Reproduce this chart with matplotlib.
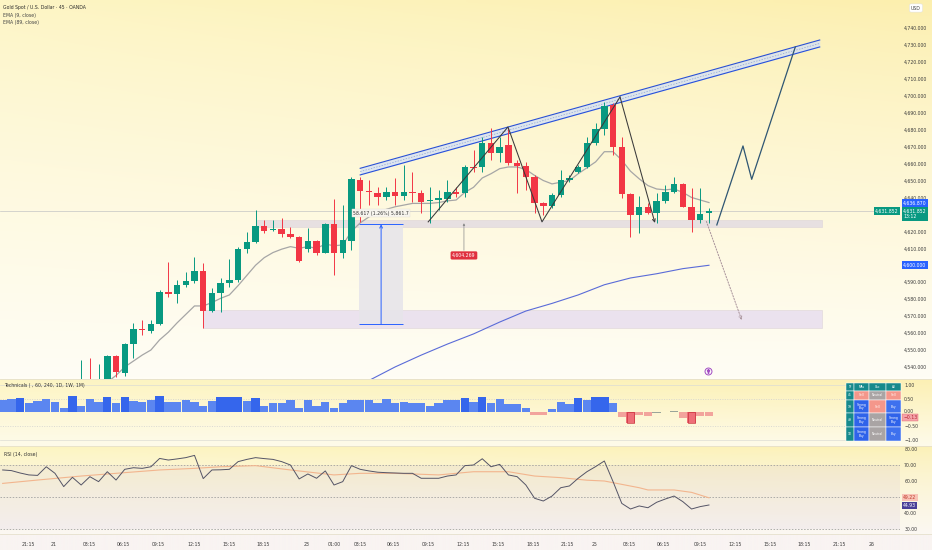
import numpy as np
import matplotlib
matplotlib.use("Agg")
import matplotlib.pyplot as plt
import matplotlib.transforms as mtransforms
from matplotlib.patches import Rectangle
from matplotlib.lines import Line2D

# ---------------- data ----------------
title = "Gold Spot / U.S. Dollar · 45 · OANDA"
ema9_name = "EMA (9, close)"
ema89_name = "EMA (89, close)"

candle_k = list(range(9, 82))
opens = [4527, 4531, 4528, 4530, 4546.4, 4536.2, 4553.5, 4562.6, 4561.4, 4565.3,
         4584.0, 4583.0, 4588.3, 4590.7, 4596.8, 4573.2, 4583.8, 4589.7, 4591.3, 4609.4,
         4613.9, 4623.2, 4620.6, 4621.2, 4618.2, 4616.9, 4609.4, 4614.3, 4607.4, 4624.1,
         4607.0, 4614.5, 4650.3, 4644.0, 4642.8, 4640.4, 4643.2, 4640.9, 4643.2, 4642.6,
         4637.7, 4638.5, 4638.9, 4643.0, 4642.4, 4658.2, 4657.8, 4672.3, 4666.0, 4671.0,
         4660.5, 4658.6, 4651.9, 4636.5, 4635.0, 4641.3, 4650.3, 4655.2, 4657.8, 4671.9,
         4680.2, 4694.6, 4669.6, 4642.0, 4629.4, 4634.2, 4631.0, 4638.1, 4643.0, 4647.8,
         4634.6, 4626.7, 4630.6]
highs = [4544, 4545, 4542, 4547, 4547, 4554, 4565.7, 4567.7, 4567.7, 4585.4,
         4602.1, 4591.3, 4596.2, 4605.1, 4601.1, 4586.4, 4592.3, 4603.5, 4611.0, 4619.8,
         4632.6, 4626.7, 4626.7, 4627.7, 4622.8, 4617.0, 4621.8, 4614.9, 4624.7, 4639.0,
         4635.5, 4651.9, 4651.9, 4650.3, 4646.4, 4646.4, 4651.3, 4659.2, 4655.2, 4644.4,
         4646.4, 4644.4, 4650.3, 4646.4, 4659.2, 4668.0, 4675.9, 4680.8, 4675.9, 4680.8,
         4662.1, 4661.1, 4653.3, 4637.5, 4642.4, 4656.2, 4653.3, 4659.2, 4675.9, 4683.8,
         4696.5, 4695.6, 4675.9, 4642.4, 4640.9, 4636.5, 4642.4, 4647.4, 4652.3, 4648.3,
         4645.4, 4645.4, 4633.6]
lows = [4524, 4522, 4525, 4528, 4534.2, 4534.5, 4545.1, 4558.8, 4559.8, 4564.7,
        4581.5, 4577.5, 4587.0, 4589.3, 4563.2, 4572.6, 4572.6, 4587.4, 4590.3, 4607.0,
        4612.9, 4618.8, 4620.4, 4616.9, 4615.9, 4602.1, 4608.0, 4606.0, 4607.0, 4594.2,
        4604.1, 4609.0, 4625.7, 4635.5, 4635.5, 4638.5, 4635.5, 4638.5, 4637.5, 4630.6,
        4624.7, 4632.6, 4637.5, 4640.4, 4640.4, 4655.2, 4655.2, 4662.1, 4661.1, 4659.2,
        4642.4, 4644.4, 4630.6, 4629.7, 4633.6, 4640.4, 4649.3, 4654.2, 4657.2, 4671.0,
        4676.9, 4665.1, 4639.5, 4616.9, 4618.8, 4630.3, 4624.7, 4636.5, 4642.4, 4634.2,
        4619.8, 4624.7, 4624.7]
closes = [4531, 4528, 4532, 4546.4, 4537.2, 4553.5, 4562.2, 4561.8, 4565.3, 4584.0,
          4583.0, 4588.3, 4590.7, 4596.8, 4573.2, 4583.8, 4589.7, 4591.3, 4609.4, 4613.9,
          4623.2, 4620.4, 4621.2, 4618.2, 4616.9, 4602.7, 4614.3, 4607.4, 4624.1, 4607.0,
          4614.9, 4650.7, 4644.0, 4643.2, 4640.4, 4643.2, 4640.9, 4643.2, 4642.6, 4637.5,
          4638.5, 4639.5, 4643.0, 4641.9, 4657.8, 4657.4, 4672.3, 4666.0, 4670.0, 4660.5,
          4658.6, 4651.9, 4636.5, 4635.0, 4641.3, 4650.3, 4651.5, 4657.8, 4671.9, 4680.2,
          4694.0, 4669.6, 4642.0, 4629.4, 4634.2, 4631.0, 4638.1, 4643.0, 4647.8, 4634.6,
          4626.7, 4630.3, 4631.9]

ema9_k = list(range(12, 82))
ema9 = [4531, 4535, 4540, 4543.5, 4547, 4550, 4556, 4560.5, 4566, 4571,
        4576, 4576, 4578, 4580.5, 4582.5, 4588, 4594, 4600, 4604.5, 4607.5,
        4609.5, 4611, 4610, 4611, 4610, 4612.5, 4611.5, 4612, 4620, 4625,
        4628.5, 4631, 4633, 4634.5, 4635.5, 4636.5, 4636.5, 4636.5, 4637, 4638,
        4638.5, 4643, 4646, 4651.5, 4654, 4657, 4658, 4658, 4656.5, 4653,
        4650, 4648, 4649, 4650, 4654, 4657.5, 4661, 4667, 4667, 4662,
        4655.5, 4651, 4647, 4645, 4644.5, 4645, 4643, 4640, 4638.5, 4637]

ema89_k = [42, 45, 48, 51, 54, 57, 60, 63, 66, 69, 72, 75, 78, 81]
ema89 = [4532, 4540, 4547, 4553.5, 4559.5, 4566.5, 4573, 4577.5, 4582.5, 4588.5,
         4592.5, 4595, 4598, 4600]

tech_k = list(range(0, 82))
tech = [0.45, 0.47, 0.51, 0.35, 0.41, 0.47, 0.36, 0.17, 0.59, 0.23,
        0.47, 0.39, 0.55, 0.35, 0.57, 0.42, 0.39, 0.45, 0.61, 0.36,
        0.36, 0.45, 0.36, 0.23, 0.41, 0.55, 0.57, 0.57, 0.42, 0.53,
        0.23, 0.33, 0.33, 0.45, 0.17, 0.45, 0.23, 0.39, 0.17, 0.35,
        0.45, 0.45, 0.45, 0.35, 0.48, 0.33, 0.39, 0.33, 0.33, 0.23,
        0.33, 0.45, 0.45, 0.51, 0.36, 0.55, 0.33, 0.48, 0.30, 0.30,
        0.15, -0.10, -0.10, 0.12, 0.36, 0.29, 0.51, 0.45, 0.55, 0.55,
        0.35, -0.17, -0.38, -0.10, -0.15, -0.02, 0.02, 0.05, -0.20, -0.38,
        -0.15, -0.13]

rsi_k = list(range(0, 82))
rsi = [66.9, 66.5, 65.0, 63.8, 63.5, 68.9, 64.8, 56.5, 62.3, 57.5,
       62.7, 59.6, 65.8, 60.6, 67.3, 68.3, 67.9, 68.9, 74.1, 73.1,
       73.8, 74.6, 76.0, 61.5, 66.9, 67.0, 67.3, 72.1, 73.5, 74.6,
       74.0, 73.5, 72.1, 70.0, 61.3, 64.4, 61.7, 66.3, 57.5, 59.6,
       69.6, 67.3, 66.3, 65.5, 65.2, 65.0, 64.8, 64.8, 61.7, 61.7,
       61.7, 63.1, 63.8, 69.6, 70.0, 73.9, 68.9, 70.4, 63.8, 62.7,
       57.5, 49.2, 47.5, 50.6, 55.8, 56.9, 61.7, 65.8, 69.0, 72.5,
       59.6, 46.0, 42.5, 44.4, 43.3, 46.7, 48.75, 50.6, 47.1, 42.5,
       44.0, 45.0]
rsi_ma_k = [0, 4, 9, 13, 18, 22, 25, 29, 33, 38, 41, 45, 50, 54, 58, 61, 64, 67, 69, 71, 73, 74, 77, 79, 81]
rsi_ma = [58.5, 60.6, 63.1, 64.8, 66.9, 67.9, 68.9, 69.6, 66.9, 63.8, 64.8, 64.8, 63.8,
          65.8, 65.8, 63.1, 62.1, 60.5, 60.0, 57.9, 55.8, 54.4, 54.4, 52.9, 49.5]

time_pos = [2.9, 5.8, 9.9, 13.9, 17.9, 21.9, 26.0, 29.9, 34.9, 38.0, 41.0, 44.8, 48.8,
            52.8, 56.8, 60.8, 64.8, 67.9, 71.9, 75.8, 80.0, 84.0, 88.0, 91.9, 96.0, 99.7]
time_lbl = ["21:15", "21", "03:15", "06:15", "09:15", "12:15", "15:15", "18:15", "23", "01:00",
            "03:15", "06:15", "09:15", "12:15", "15:15", "18:15", "21:15", "25", "03:15", "06:15",
            "09:15", "12:15", "15:15", "18:15", "21:15", "26"]

price_ticks = [4540, 4550, 4560, 4570, 4580, 4590, 4610, 4620, 4640, 4650, 4660, 4670,
               4680, 4690, 4700, 4710, 4720, 4730, 4740]

# drawings
channel_k = [41.0, 93.7]
channel_top = [4657.2, 4732.9]
channel_bot = [4653.3, 4728.8]
zig1_k = [48.8, 57.95, 61.85, 70.8, 74.8]
zig1_p = [4625.6, 4681.6, 4625.6, 4699.3, 4625.0]
zig2_k = [81.9, 84.9, 85.9, 90.9]
zig2_p = [4623.8, 4670.4, 4650.7, 4728.8]
dot_k = [80.7, 84.75]
dot_p = [4625.9, 4567.7]
zone_hi = (29.2, 94.0, 4622.8, 4626.7)
zone_lo = (23.0, 94.0, 4563.0, 4573.6)
measure = (40.9, 45.9, 4565.2, 4624.2)
measure_text = "58.617 (1.26%) 5,861.7"
tag_k, tag_p, tag_text = 52.9, 4605.8, "4,604.269"
last_price = 4631.852

table_header = ["TF", "MAs", "Osc", "All"]
table_tf = ["45", "1H", "4H", "1D"]
table_cells = [["Sell", "Neutral", "Sell"],
               ["Strong Buy", "Sell", "Buy"],
               ["Strong Buy", "Neutral", "Strong Buy"],
               ["Strong Buy", "Neutral", "Buy"]]

# ---------------- layout ----------------
W, H = 932, 550
PX_PER_BAR = 8.72
XL = -0.305
XR = 900 / PX_PER_BAR + XL
FS = 3.3
GREEN, RED = "#089981", "#f23645"


def rect(x0, y0, x1, y1):
    return [x0 / W, 1 - y1 / H, (x1 - x0) / W, (y1 - y0) / H]


def hexrgb(h):
    h = h.lstrip("#")
    return np.array([int(h[i:i + 2], 16) / 255 for i in (0, 2, 4)])


fig = plt.figure(figsize=(W / 100, H / 100), dpi=100)


def grad(y0, y1, ctl, ctr, cb, p=0.9):
    a = fig.add_axes(rect(0, y0, W, y1))
    a.axis("off")
    n = 80
    t = np.linspace(0, 1, n)[:, None, None] ** p
    s = np.linspace(0, 1, n)[None, :, None]
    top = hexrgb(ctl) * (1 - s) + hexrgb(ctr) * s
    img = top * (1 - t) + hexrgb(cb) * t
    a.imshow(img, aspect="auto", extent=[0, 1, 0, 1], interpolation="bilinear")
    a.set_xlim(0, 1)
    a.set_ylim(0, 1)


grad(0, 379, "#fdf5c4", "#fcefae", "#fffdf5", 0.8)
grad(379, 446, "#fdf5c4", "#fcf0b4", "#fefbea", 1.0)
grad(446, 534, "#fdf5c0", "#fcf1b4", "#fbf8f2", 0.7)
grad(534, 550, "#f9f4f2", "#f9f4f2", "#f9f4f2", 1.0)


def style(ax):
    ax.set_facecolor("none")
    for s in ax.spines.values():
        s.set_visible(False)
    ax.set_xlim(XL, XR)
    ax.yaxis.tick_right()
    ax.tick_params(axis="y", length=0, pad=3, labelsize=FS, labelcolor="#3a3a3a")


# ---------------- price pane ----------------
ax = fig.add_axes(rect(0, 0, 900, 379))
style(ax)
ax.set_ylim(4532.9, 4756.5)
ax.set_yticks(price_ticks)
ax.set_yticklabels([f"{v:,.3f}" for v in price_ticks])
ax.set_xticks([])

ax.axhline(last_price, color="#c4c4c4", lw=0.5, zorder=1)

for (k0, k1, p0, p1), fc in [(zone_hi, "#e7e0e1"), (zone_lo, "#ebe2ee")]:
    ax.add_patch(Rectangle((k0, p0), k1 - k0, p1 - p0, fc=fc, ec="#ddd4d8", lw=0.4, zorder=1.2))

mk0, mk1, mp0, mp1 = measure
ax.add_patch(Rectangle((mk0, mp0), mk1 - mk0, mp1 - mp0, fc="#e7e5ea", ec="none", alpha=0.9, zorder=1.3))
ax.hlines([mp0, mp1], mk0, mk1, color="#2962ff", lw=0.7, zorder=2)
ax.annotate("", xy=((mk0 + mk1) / 2, mp1), xytext=((mk0 + mk1) / 2, mp0),
            arrowprops=dict(arrowstyle="->", color="#2962ff", lw=0.7, mutation_scale=5,
                            shrinkA=0, shrinkB=0), zorder=2)
ax.text((mk0 + mk1) / 2, mp1 + 6.5, measure_text, ha="center", va="center", fontsize=FS,
        color="#333", zorder=6,
        bbox=dict(boxstyle="square,pad=0.3", fc="#f7f5ee", ec="#e4e0d6", lw=0.3))

# channel
ax.fill_between(channel_k, channel_bot, channel_top, color="#d3e0f7", alpha=0.75, zorder=2, lw=0)
ax.plot(channel_k, channel_top, color="#2850d8", lw=0.8, zorder=2.1)
ax.plot(channel_k, channel_bot, color="#2850d8", lw=0.8, zorder=2.1)
ax.plot(channel_k, [(a + b) / 2 for a, b in zip(channel_top, channel_bot)],
        color="#8aa2d8", lw=0.5, ls=(0, (2, 2)), zorder=2.1)

# EMAs
ax.plot(ema9_k, ema9, color="#a6a6a6", lw=0.9, zorder=3)
ax.plot(ema89_k, ema89, color="#5a6bd8", lw=0.8, zorder=3)

# candles
o, h, l, c = map(np.array, (opens, highs, lows, closes))
kk = np.array(candle_k)
cols = np.where(c >= o, GREEN, RED)
ax.vlines(kk, l, h, colors=cols, lw=0.7, zorder=4)
ax.bar(kk, np.maximum(np.abs(c - o), 0.5), bottom=np.minimum(o, c), width=0.74,
       color=cols, edgecolor="none", zorder=5)

# zigzags
ax.plot(zig1_k[:-1], zig1_p[:-1], color="#3a3a3a", lw=0.75, zorder=6)
ax.annotate("", xy=(zig1_k[-1], zig1_p[-1]), xytext=(zig1_k[-2], zig1_p[-2]),
            arrowprops=dict(arrowstyle="->", color="#3a3a3a", lw=0.75, mutation_scale=5,
                            shrinkA=0, shrinkB=0), zorder=6)
ax.plot(zig2_k, zig2_p, color="#2f5673", lw=0.9, zorder=6)
ax.annotate("", xy=(dot_k[1], dot_p[1]), xytext=(dot_k[0], dot_p[0]),
            arrowprops=dict(arrowstyle="->", color="#a8929a", lw=0.7, ls=(0, (1.5, 1.5)),
                            mutation_scale=5, shrinkA=0, shrinkB=0), zorder=6)

# tag label
ax.annotate("", xy=(tag_k, 4624.8), xytext=(tag_k, tag_p + 3),
            arrowprops=dict(arrowstyle="-|>", color="#8a8a8a", lw=0.5, mutation_scale=3,
                            shrinkA=0, shrinkB=0), zorder=6)
ax.text(tag_k, tag_p, tag_text, ha="center", va="center", fontsize=FS, color="white", zorder=7,
        bbox=dict(boxstyle="round,pad=0.35,rounding_size=0.3", fc="#e0313f", ec="none"))
ax.plot([80.9], [4537.6], marker="o", ms=5, mfc="#fbf7fb", mec="#a24cc2", mew=0.7, zorder=7)
ax.plot([80.9], [4537.6], marker="$\u2191$", ms=2.5, color="#a24cc2", zorder=8)

# price scale labels
btr = mtransforms.blended_transform_factory(ax.transAxes, ax.transData)


def plabel(y, txt, fc, x=1.0035, ha="left", tc="white"):
    ax.text(x, y, txt, transform=btr, ha=ha, va="center", fontsize=FS, color=tc, zorder=10,
            clip_on=False, bbox=dict(boxstyle="square,pad=0.3", fc=fc, ec="none"))


plabel(ema9[-1] - 0.13, "4,636.870", "#2962ff")
plabel(last_price - 1.5, "4,631.852\n13:12", GREEN)
plabel(last_price, "4,631.852", GREEN, x=0.9985, ha="right")
plabel(ema89[-1], "4,600.000", "#2962ff")
fig.text(916 / W, 1 - 8 / H, "USD", ha="center", va="center", fontsize=FS, color="#444",
         bbox=dict(boxstyle="round,pad=0.35", fc="white", ec="#dddddd", lw=0.3))

fig.text(3 / W, 1 - 7 / H, title, fontsize=FS, color="#2b2b2b", va="center")
fig.text(3 / W, 1 - 15 / H, ema9_name, fontsize=FS, color="#444", va="center")
fig.text(3 / W, 1 - 22.5 / H, ema89_name, fontsize=FS, color="#444", va="center")

# ---------------- technicals pane ----------------
at = fig.add_axes(rect(0, 379, 900, 446))
style(at)
at.set_ylim(-1.225, 1.211)
at.set_xticks([])
at.set_yticks([1, 0.5, 0.06, -0.5, -1])
at.set_yticklabels(["1.00", "0.50", "0.00", "\u22120.50", "\u22121.00"])
at.axhline(1, color="#dcdcd4", lw=0.5)
at.axhline(-1, color="#dcdcd4", lw=0.5)
at.axhline(0.5, color="#cfcfcf", lw=0.5, ls=(0, (1.5, 2)))
at.axhline(-0.5, color="#cfcfcf", lw=0.5, ls=(0, (1.5, 2)))
tv = np.array(tech)
tcol = np.where(tv >= 0.5, "#3566ec", np.where(tv >= 0.08, "#5b86f0",
                np.where(tv > -0.05, "#9aa59a", np.where(tv > -0.3, "#f2a49c", "#ee6f77"))))
at.bar(tech_k, tv, width=0.96, color=tcol, edgecolor="none", zorder=2)
strong = tv <= -0.3
at.bar(np.array(tech_k)[strong], tv[strong], width=0.9, color="none",
       edgecolor="#c9303c", lw=0.5, zorder=3)
at.text(0.004, 0.91, "Technicals ( , 60, 240, 1D, 1W, 1M)", transform=at.transAxes,
        fontsize=FS, color="#333", va="center")
bt = mtransforms.blended_transform_factory(at.transAxes, at.transData)
at.text(1.0035, -0.2, "\u22120.13", transform=bt, ha="left", va="center", fontsize=FS,
        color="#b42432", clip_on=False, zorder=10,
        bbox=dict(boxstyle="square,pad=0.25", fc="#f5a3a9", ec="#e06470", lw=0.3))

# ---------------- RSI pane ----------------
ar = fig.add_axes(rect(0, 446, 900, 534))
style(ar)
ar.set_ylim(26.875, 81.875)
ar.set_yticks([80, 70, 60, 40, 30])
ar.set_yticklabels(["80.00", "70.00", "60.00", "40.00", "30.00"])
ar.axhspan(30, 70, color="#8c6ac8", alpha=0.07, lw=0, zorder=0)
for v in (70, 50, 30):
    ar.axhline(v, color="#9a9a9a", lw=0.55, ls=(0, (2, 2)), zorder=1)
ar.plot(rsi_ma_k, rsi_ma, color="#f2b58e", lw=0.8, zorder=2)
ar.plot(rsi_k, rsi, color="#545466", lw=0.7, zorder=3)
ar.text(0.004, 0.9, "RSI (14, close)", transform=ar.transAxes, fontsize=FS, color="#333",
        va="center")
br = mtransforms.blended_transform_factory(ar.transAxes, ar.transData)
ar.text(1.0035, 49.6, "49.22", transform=br, ha="left", va="center", fontsize=FS,
        color="#c0392b", clip_on=False, zorder=10,
        bbox=dict(boxstyle="square,pad=0.25", fc="#f8c3b6", ec="none"))
ar.text(1.0035, 44.6, "44.93", transform=br, ha="left", va="center", fontsize=FS,
        color="white", clip_on=False, zorder=10,
        bbox=dict(boxstyle="square,pad=0.25", fc="#4a3f98", ec="none"))
ar.set_xticks(time_pos)
ar.set_xticklabels(time_lbl)
ar.tick_params(axis="x", length=0, pad=5.5, labelsize=FS, labelcolor="#3a3a3a")

# ---------------- overlay: separators + table ----------------
ov = fig.add_axes([0, 0, 1, 1])
ov.set_xlim(0, W)
ov.set_ylim(H, 0)
ov.axis("off")
ov.set_facecolor("none")
for y in (379, 446, 534):
    ov.add_line(Line2D([0, W], [y, y], color="#e6e0cc", lw=0.6))

cols_x = [846, 854, 869.3, 885.7, 901]
rows_y = [383.3, 390.7, 400, 413.3, 427.3, 440.7]
TEAL = "#178a8c"
cmap = {"Sell": "#f4978b", "Neutral": "#a9a4a4", "Strong Buy": "#2f63ea", "Buy": "#3e71ee"}


def cell(ci, ri, fc, txt):
    x0, x1 = cols_x[ci], cols_x[ci + 1]
    y0, y1 = rows_y[ri], rows_y[ri + 1]
    ov.add_patch(Rectangle((x0, y0), x1 - x0, y1 - y0, fc=fc, ec="white", lw=0.35))
    ov.text((x0 + x1) / 2, (y0 + y1) / 2, txt.replace(" ", "\n"), ha="center", va="center",
            fontsize=2.2, color="white", linespacing=0.9)


for ci, t in enumerate(table_header):
    cell(ci, 0, TEAL, t)
for ri, tf in enumerate(table_tf):
    cell(0, ri + 1, TEAL, tf)
    for ci, v in enumerate(table_cells[ri]):
        cell(ci + 1, ri + 1, cmap[v], v)

fig.savefig("out.png", dpi=100)
